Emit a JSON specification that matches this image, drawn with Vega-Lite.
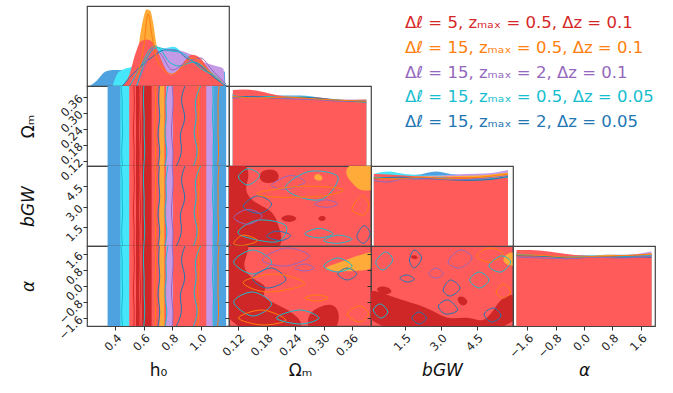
{
"$schema":"https://vega.github.io/schema/vega-lite/v6.json",
"padding":{"left":18,"top":5,"right":5,"bottom":5},
"background":"white",
"columns":4,
"spacing":0,
"bounds":"flush",
"resolve":{"scale":{"x":"independent","y":"independent"}},
"config":{
 "view":{"stroke":"#444","strokeWidth":1.2},
 "axis":{"domain":false,"grid":false,"tickColor":"#333","tickSize":4,"tickWidth":1,"labelFont":"DejaVu Sans","titleFont":"DejaVu Sans","labelFontSize":11.5,"titleFontSize":17,"titleFontWeight":"normal","labelColor":"#222","titleColor":"#111","labelPadding":2,"labelOverlap":false,"labelFlush":false},
 "text":{"font":"DejaVu Sans"}
},
"datasets":{
 "leg":[{"i":0,"s":"A","t":"Δℓ = 5, zₘₐₓ = 0.5, Δz = 0.1"},{"i":1,"s":"B","t":"Δℓ = 15, zₘₐₓ = 0.5, Δz = 0.1"},{"i":2,"s":"C","t":"Δℓ = 15, zₘₐₓ = 2, Δz = 0.1"},{"i":3,"s":"D","t":"Δℓ = 15, zₘₐₓ = 0.5, Δz = 0.05"},{"i":4,"s":"E","t":"Δℓ = 15, zₘₐₓ = 2, Δz = 0.05"}],
 "h0m":[
  {"s":"E","h0":0.22,"d":0},{"s":"E","h0":0.27,"d":0.07},{"s":"E","h0":0.33,"d":0.18},{"s":"E","h0":0.38,"d":0.2},{"s":"E","h0":0.45,"d":0.2},{"s":"E","h0":0.6,"d":0.2},{"s":"E","h0":0.8,"d":0.2},{"s":"E","h0":1.0,"d":0.2},{"s":"E","h0":1.06,"d":0.19},{"s":"E","h0":1.12,"d":0.19},{"s":"E","h0":1.17,"d":0.18},{"s":"E","h0":1.175,"d":0},
  {"s":"D","h0":0.38,"d":0},{"s":"D","h0":0.42,"d":0.17},{"s":"D","h0":0.46,"d":0.21},{"s":"D","h0":0.53,"d":0.25},{"s":"D","h0":0.6,"d":0.36},{"s":"D","h0":0.67,"d":0.48},{"s":"D","h0":0.74,"d":0.47},{"s":"D","h0":0.81,"d":0.49},{"s":"D","h0":0.88,"d":0.4},{"s":"D","h0":0.95,"d":0.3},{"s":"D","h0":1.02,"d":0.24},{"s":"D","h0":1.11,"d":0.2},{"s":"D","h0":1.16,"d":0.08},{"s":"D","h0":1.18,"d":0},
  {"s":"C","h0":0.66,"d":0},{"s":"C","h0":0.7,"d":0.35},{"s":"C","h0":0.75,"d":0.47},{"s":"C","h0":0.81,"d":0.46},{"s":"C","h0":0.86,"d":0.44},{"s":"C","h0":0.9,"d":0.42},{"s":"C","h0":0.95,"d":0.38},{"s":"C","h0":1.02,"d":0.3},{"s":"C","h0":1.09,"d":0.26},{"s":"C","h0":1.16,"d":0.22},{"s":"C","h0":1.17,"d":0},
  {"s":"B","h0":0.48,"d":0},{"s":"B","h0":0.526,"d":0.1},{"s":"B","h0":0.55,"d":0.3},{"s":"B","h0":0.575,"d":0.64},{"s":"B","h0":0.6,"d":0.87},{"s":"B","h0":0.62,"d":0.96},{"s":"B","h0":0.645,"d":0.94},{"s":"B","h0":0.665,"d":0.8},{"s":"B","h0":0.686,"d":0.55},{"s":"B","h0":0.709,"d":0.32},{"s":"B","h0":0.745,"d":0.18},{"s":"B","h0":0.8,"d":0.1},{"s":"B","h0":0.9,"d":0.12},{"s":"B","h0":1.05,"d":0.1},{"s":"B","h0":1.14,"d":0.04},{"s":"B","h0":1.18,"d":0},
  {"s":"A","h0":0.45,"d":0},{"s":"A","h0":0.5,"d":0.15},{"s":"A","h0":0.54,"d":0.4},{"s":"A","h0":0.58,"d":0.56},{"s":"A","h0":0.62,"d":0.58},{"s":"A","h0":0.66,"d":0.55},{"s":"A","h0":0.7,"d":0.43},{"s":"A","h0":0.74,"d":0.26},{"s":"A","h0":0.79,"d":0.14},{"s":"A","h0":0.84,"d":0.2},{"s":"A","h0":0.89,"d":0.32},{"s":"A","h0":0.94,"d":0.39},{"s":"A","h0":0.996,"d":0.35},{"s":"A","h0":1.054,"d":0.22},{"s":"A","h0":1.113,"d":0.09},{"s":"A","h0":1.17,"d":0.02},{"s":"A","h0":1.18,"d":0}
 ],
 "h0l":[
  {"id":"c1","s":"D","h0":0.5,"d":0},{"id":"c1","s":"D","h0":0.58,"d":0.25},{"id":"c1","s":"D","h0":0.64,"d":0.45},{"id":"c1","s":"D","h0":0.68,"d":0.5},{"id":"c1","s":"D","h0":0.72,"d":0.45},{"id":"c1","s":"D","h0":0.78,"d":0.3},{"id":"c1","s":"D","h0":0.85,"d":0.25},{"id":"c1","s":"D","h0":0.95,"d":0.3},{"id":"c1","s":"D","h0":1.05,"d":0.2},{"id":"c1","s":"D","h0":1.15,"d":0.05},
  {"id":"b1","s":"E","h0":0.45,"d":0},{"id":"b1","s":"E","h0":0.55,"d":0.2},{"id":"b1","s":"E","h0":0.65,"d":0.35},{"id":"b1","s":"E","h0":0.75,"d":0.45},{"id":"b1","s":"E","h0":0.82,"d":0.45},{"id":"b1","s":"E","h0":0.9,"d":0.35},{"id":"b1","s":"E","h0":1.0,"d":0.25},{"id":"b1","s":"E","h0":1.1,"d":0.1},{"id":"b1","s":"E","h0":1.18,"d":0},
  {"id":"p1","s":"C","h0":0.55,"d":0},{"id":"p1","s":"C","h0":0.62,"d":0.3},{"id":"p1","s":"C","h0":0.67,"d":0.48},{"id":"p1","s":"C","h0":0.72,"d":0.4},{"id":"p1","s":"C","h0":0.8,"d":0.2},{"id":"p1","s":"C","h0":0.9,"d":0.3},{"id":"p1","s":"C","h0":1.0,"d":0.35},{"id":"p1","s":"C","h0":1.08,"d":0.2},{"id":"p1","s":"C","h0":1.18,"d":0.02},
  {"id":"o1","s":"B","h0":0.55,"d":0.1},{"id":"o1","s":"B","h0":0.6,"d":0.5},{"id":"o1","s":"B","h0":0.63,"d":0.9},{"id":"o1","s":"B","h0":0.66,"d":0.6},{"id":"o1","s":"B","h0":0.7,"d":0.3},{"id":"o1","s":"B","h0":0.8,"d":0.15},{"id":"o1","s":"B","h0":0.95,"d":0.35},{"id":"o1","s":"B","h0":1.05,"d":0.2},{"id":"o1","s":"B","h0":1.15,"d":0.05},
  {"id":"c2","s":"D","h0":0.55,"d":0},{"id":"c2","s":"D","h0":0.62,"d":0.35},{"id":"c2","s":"D","h0":0.7,"d":0.48},{"id":"c2","s":"D","h0":0.78,"d":0.44},{"id":"c2","s":"D","h0":0.86,"d":0.42},{"id":"c2","s":"D","h0":0.93,"d":0.33},{"id":"c2","s":"D","h0":1.0,"d":0.22},{"id":"c2","s":"D","h0":1.1,"d":0.12},{"id":"c2","s":"D","h0":1.17,"d":0}
 ],
 "bands":[
  {"h0":0.345,"h0b":1.18,"c":"E"},{"h0":0.435,"h0b":1.09,"c":"D"},{"h0":0.5,"h0b":1.09,"c":"C"},{"h0":0.498,"h0b":1.04,"c":"A"},{"h0":0.545,"h0b":0.568,"c":"A2"},{"h0":0.585,"h0b":0.655,"c":"A2"},{"h0":0.71,"h0b":0.745,"c":"B"},{"h0":0.757,"h0b":0.806,"c":"C"}
 ],
 "ks":[{"k":0,"om":0.1,"bg":0.1,"al":-2},{"k":1,"om":0.16,"bg":1.28,"al":-1.2},{"k":2,"om":0.22,"bg":2.46,"al":-0.4},{"k":3,"om":0.28,"bg":3.64,"al":0.4},{"k":4,"om":0.34,"bg":4.82,"al":1.2},{"k":5,"om":0.4,"bg":6,"al":2}],
 "wig":[
  {"id":"w1","s":"D","k":0,"h0":0.45},{"id":"w1","s":"D","k":1,"h0":0.44},{"id":"w1","s":"D","k":2,"h0":0.455},{"id":"w1","s":"D","k":3,"h0":0.445},{"id":"w1","s":"D","k":4,"h0":0.45},{"id":"w1","s":"D","k":5,"h0":0.44},
  {"id":"w2","s":"A","k":0,"h0":0.53},{"id":"w2","s":"A","k":1,"h0":0.535},{"id":"w2","s":"A","k":2,"h0":0.525},{"id":"w2","s":"A","k":3,"h0":0.53},{"id":"w2","s":"A","k":4,"h0":0.535},{"id":"w2","s":"A","k":5,"h0":0.53},
  {"id":"w3","s":"A","k":0,"h0":0.575},{"id":"w3","s":"A","k":1,"h0":0.57},{"id":"w3","s":"A","k":2,"h0":0.58},{"id":"w3","s":"A","k":3,"h0":0.575},{"id":"w3","s":"A","k":4,"h0":0.57},{"id":"w3","s":"A","k":5,"h0":0.575},
  {"id":"w4","s":"D","k":0,"h0":0.6},{"id":"w4","s":"D","k":1,"h0":0.61},{"id":"w4","s":"D","k":2,"h0":0.6},{"id":"w4","s":"D","k":3,"h0":0.605},{"id":"w4","s":"D","k":4,"h0":0.595},{"id":"w4","s":"D","k":5,"h0":0.6},
  {"id":"w5","s":"B","k":0,"h0":0.68},{"id":"w5","s":"B","k":1,"h0":0.685},{"id":"w5","s":"B","k":2,"h0":0.675},{"id":"w5","s":"B","k":3,"h0":0.68},{"id":"w5","s":"B","k":4,"h0":0.685},{"id":"w5","s":"B","k":5,"h0":0.68},
  {"id":"w6","s":"D","k":0,"h0":0.75},{"id":"w6","s":"D","k":1,"h0":0.77},{"id":"w6","s":"D","k":2,"h0":0.74},{"id":"w6","s":"D","k":3,"h0":0.765},{"id":"w6","s":"D","k":4,"h0":0.75},{"id":"w6","s":"D","k":5,"h0":0.77},
  {"id":"w7","s":"E","k":0,"h0":0.83},{"id":"w7","s":"E","k":1,"h0":0.88},{"id":"w7","s":"E","k":2,"h0":0.84},{"id":"w7","s":"E","k":3,"h0":0.91},{"id":"w7","s":"E","k":4,"h0":0.85},{"id":"w7","s":"E","k":5,"h0":0.89},
  {"id":"w8","s":"C","k":0,"h0":0.8},{"id":"w8","s":"C","k":1,"h0":0.81},{"id":"w8","s":"C","k":2,"h0":0.79},{"id":"w8","s":"C","k":3,"h0":0.8},{"id":"w8","s":"C","k":4,"h0":0.81},{"id":"w8","s":"C","k":5,"h0":0.8},
  {"id":"w9","s":"B","k":0,"h0":0.98},{"id":"w9","s":"B","k":1,"h0":0.99},{"id":"w9","s":"B","k":2,"h0":0.975},{"id":"w9","s":"B","k":3,"h0":0.985},{"id":"w9","s":"B","k":4,"h0":0.99},{"id":"w9","s":"B","k":5,"h0":0.98},
  {"id":"w10","s":"D","k":0,"h0":0.95},{"id":"w10","s":"D","k":1,"h0":0.99},{"id":"w10","s":"D","k":2,"h0":0.94},{"id":"w10","s":"D","k":3,"h0":0.98},{"id":"w10","s":"D","k":4,"h0":0.95},{"id":"w10","s":"D","k":5,"h0":1.0},
  {"id":"w11","s":"D","k":0,"h0":1.09},{"id":"w11","s":"D","k":1,"h0":1.085},{"id":"w11","s":"D","k":2,"h0":1.095},{"id":"w11","s":"D","k":3,"h0":1.08},{"id":"w11","s":"D","k":4,"h0":1.09},{"id":"w11","s":"D","k":5,"h0":1.085},
  {"id":"w12","s":"B","k":0,"h0":1.12},{"id":"w12","s":"B","k":1,"h0":1.13},{"id":"w12","s":"B","k":2,"h0":1.12},{"id":"w12","s":"B","k":3,"h0":1.125},{"id":"w12","s":"B","k":4,"h0":1.12},{"id":"w12","s":"B","k":5,"h0":1.13},
  {"id":"w13","s":"E","k":0,"h0":0.7},{"id":"w13","s":"E","k":1,"h0":0.72},{"id":"w13","s":"E","k":2,"h0":0.69},{"id":"w13","s":"E","k":3,"h0":0.72},{"id":"w13","s":"E","k":4,"h0":0.7},{"id":"w13","s":"E","k":5,"h0":0.71}
 ],
 "dg":[
  {"p":"om","s":"E","x":0.108,"d":0.9},{"p":"om","s":"E","x":0.15,"d":0.9},{"p":"om","s":"E","x":0.2,"d":0.88},{"p":"om","s":"E","x":0.25,"d":0.88},{"p":"om","s":"E","x":0.3,"d":0.85},{"p":"om","s":"E","x":0.35,"d":0.82},{"p":"om","s":"E","x":0.39,"d":0.8},
  {"p":"om","s":"D","x":0.108,"d":0.91},{"p":"om","s":"D","x":0.15,"d":0.88},{"p":"om","s":"D","x":0.2,"d":0.87},{"p":"om","s":"D","x":0.25,"d":0.875},{"p":"om","s":"D","x":0.3,"d":0.84},{"p":"om","s":"D","x":0.35,"d":0.82},{"p":"om","s":"D","x":0.39,"d":0.81},
  {"p":"om","s":"C","x":0.108,"d":0.89},{"p":"om","s":"C","x":0.2,"d":0.86},{"p":"om","s":"C","x":0.3,"d":0.84},{"p":"om","s":"C","x":0.35,"d":0.83},{"p":"om","s":"C","x":0.39,"d":0.835},
  {"p":"om","s":"B","x":0.108,"d":0.89},{"p":"om","s":"B","x":0.2,"d":0.86},{"p":"om","s":"B","x":0.3,"d":0.83},{"p":"om","s":"B","x":0.36,"d":0.825},{"p":"om","s":"B","x":0.39,"d":0.83},
  {"p":"om","s":"A","x":0.108,"d":0.95},{"p":"om","s":"A","x":0.13,"d":0.955},{"p":"om","s":"A","x":0.16,"d":0.94},{"p":"om","s":"A","x":0.19,"d":0.9},{"p":"om","s":"A","x":0.22,"d":0.87},{"p":"om","s":"A","x":0.26,"d":0.865},{"p":"om","s":"A","x":0.3,"d":0.85},{"p":"om","s":"A","x":0.33,"d":0.82},{"p":"om","s":"A","x":0.36,"d":0.8},{"p":"om","s":"A","x":0.39,"d":0.79},
  {"p":"bg","s":"E","x":0.22,"d":0.88},{"p":"bg","s":"E","x":1.0,"d":0.89},{"p":"bg","s":"E","x":2.0,"d":0.89},{"p":"bg","s":"E","x":2.8,"d":0.93},{"p":"bg","s":"E","x":3.4,"d":0.9},{"p":"bg","s":"E","x":4.5,"d":0.88},{"p":"bg","s":"E","x":5.79,"d":0.88},
  {"p":"bg","s":"D","x":0.22,"d":0.9},{"p":"bg","s":"D","x":0.8,"d":0.93},{"p":"bg","s":"D","x":1.5,"d":0.9},{"p":"bg","s":"D","x":2.5,"d":0.88},{"p":"bg","s":"D","x":3.5,"d":0.89},{"p":"bg","s":"D","x":4.5,"d":0.87},{"p":"bg","s":"D","x":5.79,"d":0.9},
  {"p":"bg","s":"C","x":0.22,"d":0.87},{"p":"bg","s":"C","x":1.5,"d":0.87},{"p":"bg","s":"C","x":3.0,"d":0.88},{"p":"bg","s":"C","x":4.0,"d":0.9},{"p":"bg","s":"C","x":5.0,"d":0.91},{"p":"bg","s":"C","x":5.79,"d":0.95},
  {"p":"bg","s":"B","x":0.22,"d":0.86},{"p":"bg","s":"B","x":1.5,"d":0.87},{"p":"bg","s":"B","x":3.0,"d":0.87},{"p":"bg","s":"B","x":4.5,"d":0.88},{"p":"bg","s":"B","x":5.3,"d":0.9},{"p":"bg","s":"B","x":5.79,"d":0.92},
  {"p":"bg","s":"A","x":0.22,"d":0.9},{"p":"bg","s":"A","x":1.0,"d":0.89},{"p":"bg","s":"A","x":2.0,"d":0.87},{"p":"bg","s":"A","x":3.0,"d":0.86},{"p":"bg","s":"A","x":4.0,"d":0.86},{"p":"bg","s":"A","x":5.0,"d":0.85},{"p":"bg","s":"A","x":5.79,"d":0.86},
  {"p":"al","s":"E","x":-1.9,"d":0.92},{"p":"al","s":"E","x":-1.0,"d":0.9},{"p":"al","s":"E","x":0.0,"d":0.88},{"p":"al","s":"E","x":0.6,"d":0.89},{"p":"al","s":"E","x":1.2,"d":0.89},{"p":"al","s":"E","x":1.9,"d":0.9},
  {"p":"al","s":"D","x":-1.9,"d":0.93},{"p":"al","s":"D","x":-1.0,"d":0.91},{"p":"al","s":"D","x":0.0,"d":0.88},{"p":"al","s":"D","x":0.5,"d":0.88},{"p":"al","s":"D","x":1.0,"d":0.87},{"p":"al","s":"D","x":1.9,"d":0.89},
  {"p":"al","s":"C","x":-1.9,"d":0.92},{"p":"al","s":"C","x":-1.0,"d":0.89},{"p":"al","s":"C","x":0.0,"d":0.87},{"p":"al","s":"C","x":1.0,"d":0.88},{"p":"al","s":"C","x":1.5,"d":0.9},{"p":"al","s":"C","x":1.9,"d":0.93},
  {"p":"al","s":"B","x":-1.9,"d":0.9},{"p":"al","s":"B","x":-1.0,"d":0.89},{"p":"al","s":"B","x":0.0,"d":0.87},{"p":"al","s":"B","x":0.8,"d":0.89},{"p":"al","s":"B","x":1.3,"d":0.88},{"p":"al","s":"B","x":1.9,"d":0.91},
  {"p":"al","s":"A","x":-1.9,"d":0.95},{"p":"al","s":"A","x":-1.5,"d":0.95},{"p":"al","s":"A","x":-1.0,"d":0.93},{"p":"al","s":"A","x":-0.5,"d":0.9},{"p":"al","s":"A","x":0.0,"d":0.88},{"p":"al","s":"A","x":0.5,"d":0.87},{"p":"al","s":"A","x":1.0,"d":0.88},{"p":"al","s":"A","x":1.5,"d":0.89},{"p":"al","s":"A","x":1.9,"d":0.9}
 ],
 "dgl":[
  {"p":"om","id":"c","s":"D","x":0.108,"d":0.88},{"p":"om","id":"c","s":"D","x":0.14,"d":0.86},{"p":"om","id":"c","s":"D","x":0.18,"d":0.87},{"p":"om","id":"c","s":"D","x":0.22,"d":0.85},{"p":"om","id":"c","s":"D","x":0.26,"d":0.86},{"p":"om","id":"c","s":"D","x":0.3,"d":0.83},{"p":"om","id":"c","s":"D","x":0.34,"d":0.82},{"p":"om","id":"c","s":"D","x":0.39,"d":0.8},
  {"p":"om","id":"b","s":"E","x":0.108,"d":0.86},{"p":"om","id":"b","s":"E","x":0.15,"d":0.87},{"p":"om","id":"b","s":"E","x":0.2,"d":0.85},{"p":"om","id":"b","s":"E","x":0.25,"d":0.86},{"p":"om","id":"b","s":"E","x":0.3,"d":0.84},{"p":"om","id":"b","s":"E","x":0.35,"d":0.81},{"p":"om","id":"b","s":"E","x":0.39,"d":0.8},
  {"p":"om","id":"p","s":"C","x":0.108,"d":0.85},{"p":"om","id":"p","s":"C","x":0.16,"d":0.86},{"p":"om","id":"p","s":"C","x":0.22,"d":0.84},{"p":"om","id":"p","s":"C","x":0.28,"d":0.83},{"p":"om","id":"p","s":"C","x":0.34,"d":0.81},{"p":"om","id":"p","s":"C","x":0.39,"d":0.82},
  {"p":"om","id":"o","s":"B","x":0.108,"d":0.87},{"p":"om","id":"o","s":"B","x":0.16,"d":0.85},{"p":"om","id":"o","s":"B","x":0.22,"d":0.86},{"p":"om","id":"o","s":"B","x":0.28,"d":0.84},{"p":"om","id":"o","s":"B","x":0.34,"d":0.82},{"p":"om","id":"o","s":"B","x":0.39,"d":0.81},
  {"p":"bg","id":"c","s":"D","x":0.22,"d":0.86},{"p":"bg","id":"c","s":"D","x":1.0,"d":0.85},{"p":"bg","id":"c","s":"D","x":2.0,"d":0.84},{"p":"bg","id":"c","s":"D","x":3.0,"d":0.85},{"p":"bg","id":"c","s":"D","x":4.0,"d":0.83},{"p":"bg","id":"c","s":"D","x":5.0,"d":0.84},{"p":"bg","id":"c","s":"D","x":5.79,"d":0.86},
  {"p":"bg","id":"b","s":"E","x":0.22,"d":0.84},{"p":"bg","id":"b","s":"E","x":1.2,"d":0.86},{"p":"bg","id":"b","s":"E","x":2.2,"d":0.85},{"p":"bg","id":"b","s":"E","x":3.2,"d":0.83},{"p":"bg","id":"b","s":"E","x":4.2,"d":0.82},{"p":"bg","id":"b","s":"E","x":5.0,"d":0.83},{"p":"bg","id":"b","s":"E","x":5.79,"d":0.87},
  {"p":"bg","id":"p","s":"C","x":0.22,"d":0.82},{"p":"bg","id":"p","s":"C","x":0.8,"d":0.8},{"p":"bg","id":"p","s":"C","x":1.5,"d":0.84},{"p":"bg","id":"p","s":"C","x":2.5,"d":0.84},{"p":"bg","id":"p","s":"C","x":3.5,"d":0.83},{"p":"bg","id":"p","s":"C","x":4.5,"d":0.84},{"p":"bg","id":"p","s":"C","x":5.79,"d":0.88},
  {"p":"bg","id":"o","s":"B","x":0.22,"d":0.85},{"p":"bg","id":"o","s":"B","x":1.2,"d":0.84},{"p":"bg","id":"o","s":"B","x":2.2,"d":0.86},{"p":"bg","id":"o","s":"B","x":3.2,"d":0.84},{"p":"bg","id":"o","s":"B","x":4.2,"d":0.85},{"p":"bg","id":"o","s":"B","x":5.79,"d":0.9},
  {"p":"al","id":"c","s":"D","x":-1.9,"d":0.9},{"p":"al","id":"c","s":"D","x":-1.3,"d":0.88},{"p":"al","id":"c","s":"D","x":-0.6,"d":0.86},{"p":"al","id":"c","s":"D","x":0.0,"d":0.87},{"p":"al","id":"c","s":"D","x":0.6,"d":0.86},{"p":"al","id":"c","s":"D","x":1.2,"d":0.87},{"p":"al","id":"c","s":"D","x":1.9,"d":0.88},
  {"p":"al","id":"b","s":"E","x":-1.9,"d":0.88},{"p":"al","id":"b","s":"E","x":-1.0,"d":0.87},{"p":"al","id":"b","s":"E","x":-0.3,"d":0.85},{"p":"al","id":"b","s":"E","x":0.4,"d":0.87},{"p":"al","id":"b","s":"E","x":1.0,"d":0.86},{"p":"al","id":"b","s":"E","x":1.9,"d":0.86},
  {"p":"al","id":"p","s":"C","x":-1.9,"d":0.86},{"p":"al","id":"p","s":"C","x":-1.2,"d":0.85},{"p":"al","id":"p","s":"C","x":-0.5,"d":0.84},{"p":"al","id":"p","s":"C","x":0.3,"d":0.86},{"p":"al","id":"p","s":"C","x":1.0,"d":0.85},{"p":"al","id":"p","s":"C","x":1.9,"d":0.87},
  {"p":"al","id":"o","s":"B","x":-1.9,"d":0.89},{"p":"al","id":"o","s":"B","x":-1.1,"d":0.88},{"p":"al","id":"o","s":"B","x":-0.4,"d":0.86},{"p":"al","id":"o","s":"B","x":0.3,"d":0.87},{"p":"al","id":"o","s":"B","x":1.1,"d":0.88},{"p":"al","id":"o","s":"B","x":1.9,"d":0.9}
 ],
 "blobs":[
  {"p":"ob","id":"b1","c":"A2","o":0,"x":0.07,"y":6.5},{"p":"ob","id":"b1","c":"A2","o":1,"x":0.135,"y":6.5},{"p":"ob","id":"b1","c":"A2","o":2,"x":0.145,"y":5.2},{"p":"ob","id":"b1","c":"A2","o":3,"x":0.13,"y":4.2},{"p":"ob","id":"b1","c":"A2","o":4,"x":0.155,"y":3.2},{"p":"ob","id":"b1","c":"A2","o":5,"x":0.195,"y":2.7},{"p":"ob","id":"b1","c":"A2","o":6,"x":0.205,"y":1.5},{"p":"ob","id":"b1","c":"A2","o":7,"x":0.215,"y":0.5},{"p":"ob","id":"b1","c":"A2","o":8,"x":0.2,"y":-0.5},{"p":"ob","id":"b1","c":"A2","o":9,"x":0.07,"y":-0.5},
  {"p":"ob","id":"b2","c":"A2","o":0,"x":0.165,"y":5.7},{"p":"ob","id":"b2","c":"A2","o":1,"x":0.2,"y":5.85},{"p":"ob","id":"b2","c":"A2","o":2,"x":0.21,"y":5.0},{"p":"ob","id":"b2","c":"A2","o":3,"x":0.185,"y":4.65},{"p":"ob","id":"b2","c":"A2","o":4,"x":0.163,"y":4.9},
  {"p":"ob","id":"b3","c":"A2","o":0,"x":0.203,"y":2.1},{"p":"ob","id":"b3","c":"A2","o":1,"x":0.225,"y":2.5},{"p":"ob","id":"b3","c":"A2","o":2,"x":0.25,"y":2.15},{"p":"ob","id":"b3","c":"A2","o":3,"x":0.228,"y":1.75},
  {"p":"ob","id":"b4","c":"A2","o":0,"x":0.285,"y":2.1},{"p":"ob","id":"b4","c":"A2","o":1,"x":0.296,"y":2.42},{"p":"ob","id":"b4","c":"A2","o":2,"x":0.308,"y":2.15},{"p":"ob","id":"b4","c":"A2","o":3,"x":0.297,"y":1.85},
  {"p":"ob","id":"o1","c":"B","o":0,"x":0.345,"y":5.3},{"p":"ob","id":"o1","c":"B","o":1,"x":0.35,"y":6.3},{"p":"ob","id":"o1","c":"B","o":2,"x":0.42,"y":6.3},{"p":"ob","id":"o1","c":"B","o":3,"x":0.42,"y":4.2},{"p":"ob","id":"o1","c":"B","o":4,"x":0.375,"y":4.1},{"p":"ob","id":"o1","c":"B","o":5,"x":0.36,"y":4.8},
  {"p":"ob","id":"o2","c":"B","o":0,"x":0.276,"y":5.2},{"p":"ob","id":"o2","c":"B","o":1,"x":0.29,"y":5.55},{"p":"ob","id":"o2","c":"B","o":2,"x":0.302,"y":5.0},{"p":"ob","id":"o2","c":"B","o":3,"x":0.286,"y":4.85},
  {"p":"oa","id":"b1","c":"A2","o":0,"x":0.07,"y":2.5},{"p":"oa","id":"b1","c":"A2","o":1,"x":0.135,"y":2.5},{"p":"oa","id":"b1","c":"A2","o":2,"x":0.145,"y":1.8},{"p":"oa","id":"b1","c":"A2","o":3,"x":0.125,"y":1.0},{"p":"oa","id":"b1","c":"A2","o":4,"x":0.15,"y":0.3},{"p":"oa","id":"b1","c":"A2","o":5,"x":0.185,"y":0.0},{"p":"oa","id":"b1","c":"A2","o":6,"x":0.165,"y":-0.5},{"p":"oa","id":"b1","c":"A2","o":7,"x":0.2,"y":-0.9},{"p":"oa","id":"b1","c":"A2","o":8,"x":0.25,"y":-1.5},{"p":"oa","id":"b1","c":"A2","o":9,"x":0.265,"y":-2.5},{"p":"oa","id":"b1","c":"A2","o":10,"x":0.07,"y":-2.5},
  {"p":"oa","id":"b2","c":"A2","o":0,"x":0.265,"y":-2.4},{"p":"oa","id":"b2","c":"A2","o":1,"x":0.265,"y":-1.4},{"p":"oa","id":"b2","c":"A2","o":2,"x":0.29,"y":-1.05},{"p":"oa","id":"b2","c":"A2","o":3,"x":0.315,"y":-0.85},{"p":"oa","id":"b2","c":"A2","o":4,"x":0.335,"y":-1.2},{"p":"oa","id":"b2","c":"A2","o":5,"x":0.33,"y":-2.4},
  {"p":"oa","id":"o1","c":"B","o":0,"x":0.285,"y":0.8},{"p":"oa","id":"o1","c":"B","o":1,"x":0.33,"y":1.15},{"p":"oa","id":"o1","c":"B","o":2,"x":0.37,"y":1.5},{"p":"oa","id":"o1","c":"B","o":3,"x":0.42,"y":1.9},{"p":"oa","id":"o1","c":"B","o":4,"x":0.42,"y":0.85},{"p":"oa","id":"o1","c":"B","o":5,"x":0.36,"y":0.7},
  {"p":"ba","id":"b1","c":"A2","o":0,"x":-0.3,"y":-0.1},{"p":"ba","id":"b1","c":"A2","o":1,"x":0.5,"y":-0.3},{"p":"ba","id":"b1","c":"A2","o":2,"x":1.1,"y":-0.6},{"p":"ba","id":"b1","c":"A2","o":3,"x":2.0,"y":-0.9},{"p":"ba","id":"b1","c":"A2","o":4,"x":2.8,"y":-1.3},{"p":"ba","id":"b1","c":"A2","o":5,"x":3.3,"y":-1.7},{"p":"ba","id":"b1","c":"A2","o":6,"x":4.2,"y":-1.5},{"p":"ba","id":"b1","c":"A2","o":7,"x":4.8,"y":-1.9},{"p":"ba","id":"b1","c":"A2","o":8,"x":5.3,"y":-1.0},{"p":"ba","id":"b1","c":"A2","o":9,"x":5.6,"y":-0.5},{"p":"ba","id":"b1","c":"A2","o":10,"x":6.4,"y":-0.3},{"p":"ba","id":"b1","c":"A2","o":11,"x":6.4,"y":-2.5},{"p":"ba","id":"b1","c":"A2","o":12,"x":-0.3,"y":-2.5},
  {"p":"ba","id":"b2","c":"A2","o":0,"x":1.7,"y":1.45},{"p":"ba","id":"b2","c":"A2","o":1,"x":1.9,"y":1.58},{"p":"ba","id":"b2","c":"A2","o":2,"x":2.1,"y":1.42},{"p":"ba","id":"b2","c":"A2","o":3,"x":1.9,"y":1.3},
  {"p":"ba","id":"b3","c":"A2","o":0,"x":3.6,"y":-0.6},{"p":"ba","id":"b3","c":"A2","o":1,"x":3.9,"y":-0.45},{"p":"ba","id":"b3","c":"A2","o":2,"x":4.2,"y":-0.8},{"p":"ba","id":"b3","c":"A2","o":3,"x":3.9,"y":-1.1},
  {"p":"ba","id":"b4","c":"A2","o":0,"x":0.2,"y":-0.1},{"p":"ba","id":"b4","c":"A2","o":1,"x":0.7,"y":0.05},{"p":"ba","id":"b4","c":"A2","o":2,"x":1.1,"y":-0.3},{"p":"ba","id":"b4","c":"A2","o":3,"x":0.6,"y":-0.5},
  {"p":"ba","id":"o1","c":"B","o":0,"x":5.5,"y":1.3},{"p":"ba","id":"o1","c":"B","o":1,"x":5.8,"y":1.7},{"p":"ba","id":"o1","c":"B","o":2,"x":6.3,"y":1.7},{"p":"ba","id":"o1","c":"B","o":3,"x":6.3,"y":1.0},{"p":"ba","id":"o1","c":"B","o":4,"x":5.8,"y":1.0}
 ],
 "loops":[
  {"p":"ob","id":"1","s":"D","o":0,"x":0.12,"y":5.2},{"p":"ob","id":"1","s":"D","o":1,"x":0.14,"y":5.8},{"p":"ob","id":"1","s":"D","o":2,"x":0.165,"y":5.3},{"p":"ob","id":"1","s":"D","o":3,"x":0.14,"y":4.6},
  {"p":"ob","id":"2","s":"E","o":0,"x":0.13,"y":3.0},{"p":"ob","id":"2","s":"E","o":1,"x":0.16,"y":3.8},{"p":"ob","id":"2","s":"E","o":2,"x":0.19,"y":3.2},{"p":"ob","id":"2","s":"E","o":3,"x":0.165,"y":2.5},
  {"p":"ob","id":"3","s":"C","o":0,"x":0.19,"y":4.6},{"p":"ob","id":"3","s":"C","o":1,"x":0.23,"y":5.3},{"p":"ob","id":"3","s":"C","o":2,"x":0.26,"y":4.8},{"p":"ob","id":"3","s":"C","o":3,"x":0.22,"y":4.3},
  {"p":"ob","id":"4","s":"D","o":0,"x":0.22,"y":4.5},{"p":"ob","id":"4","s":"D","o":1,"x":0.27,"y":5.6},{"p":"ob","id":"4","s":"D","o":2,"x":0.33,"y":5.2},{"p":"ob","id":"4","s":"D","o":3,"x":0.3,"y":3.6},{"p":"ob","id":"4","s":"D","o":4,"x":0.25,"y":3.7},
  {"p":"ob","id":"5","s":"C","o":0,"x":0.28,"y":3.2},{"p":"ob","id":"5","s":"C","o":1,"x":0.305,"y":3.5},{"p":"ob","id":"5","s":"C","o":2,"x":0.33,"y":3.2},{"p":"ob","id":"5","s":"C","o":3,"x":0.305,"y":2.95},
  {"p":"ob","id":"6","s":"B","o":0,"x":0.16,"y":4.0},{"p":"ob","id":"6","s":"B","o":1,"x":0.25,"y":4.5},{"p":"ob","id":"6","s":"B","o":2,"x":0.34,"y":4.3},{"p":"ob","id":"6","s":"B","o":3,"x":0.3,"y":3.8},{"p":"ob","id":"6","s":"B","o":4,"x":0.2,"y":3.7},
  {"p":"ob","id":"7","s":"D","o":0,"x":0.12,"y":1.0},{"p":"ob","id":"7","s":"D","o":1,"x":0.16,"y":2.0},{"p":"ob","id":"7","s":"D","o":2,"x":0.22,"y":1.6},{"p":"ob","id":"7","s":"D","o":3,"x":0.2,"y":0.4},
  {"p":"ob","id":"8","s":"E","o":0,"x":0.18,"y":0.8},{"p":"ob","id":"8","s":"E","o":1,"x":0.2,"y":1.2},{"p":"ob","id":"8","s":"E","o":2,"x":0.23,"y":0.9},{"p":"ob","id":"8","s":"E","o":3,"x":0.21,"y":0.5},
  {"p":"ob","id":"9","s":"D","o":0,"x":0.3,"y":0.5},{"p":"ob","id":"9","s":"D","o":1,"x":0.33,"y":0.9},{"p":"ob","id":"9","s":"D","o":2,"x":0.36,"y":0.6},{"p":"ob","id":"9","s":"D","o":3,"x":0.33,"y":0.3},
  {"p":"ob","id":"10","s":"B","o":0,"x":0.36,"y":2.8},{"p":"ob","id":"10","s":"B","o":1,"x":0.38,"y":3.8},{"p":"ob","id":"10","s":"B","o":2,"x":0.395,"y":3.2},{"p":"ob","id":"10","s":"B","o":3,"x":0.385,"y":2.4},
  {"p":"ob","id":"11","s":"E","o":0,"x":0.37,"y":0.8},{"p":"ob","id":"11","s":"E","o":1,"x":0.385,"y":1.6},{"p":"ob","id":"11","s":"E","o":2,"x":0.398,"y":1.0},{"p":"ob","id":"11","s":"E","o":3,"x":0.385,"y":0.3},
  {"p":"ob","id":"12","s":"B","o":0,"x":0.11,"y":0.3},{"p":"ob","id":"12","s":"B","o":1,"x":0.13,"y":0.9},{"p":"ob","id":"12","s":"B","o":2,"x":0.16,"y":0.5},{"p":"ob","id":"12","s":"B","o":3,"x":0.13,"y":0.15},
  {"p":"ob","id":"13","s":"C","o":0,"x":0.11,"y":2.2},{"p":"ob","id":"13","s":"C","o":1,"x":0.14,"y":2.8},{"p":"ob","id":"13","s":"C","o":2,"x":0.17,"y":2.3},{"p":"ob","id":"13","s":"C","o":3,"x":0.14,"y":1.7},
  {"p":"ob","id":"14","s":"D","o":0,"x":0.26,"y":1.0},{"p":"ob","id":"14","s":"D","o":1,"x":0.29,"y":1.4},{"p":"ob","id":"14","s":"D","o":2,"x":0.32,"y":1.0},{"p":"ob","id":"14","s":"D","o":3,"x":0.29,"y":0.7},
  {"p":"oa","id":"1","s":"D","o":0,"x":0.11,"y":1.2},{"p":"oa","id":"1","s":"D","o":1,"x":0.15,"y":1.8},{"p":"oa","id":"1","s":"D","o":2,"x":0.19,"y":1.2},{"p":"oa","id":"1","s":"D","o":3,"x":0.15,"y":0.6},
  {"p":"oa","id":"2","s":"E","o":0,"x":0.15,"y":0.4},{"p":"oa","id":"2","s":"E","o":1,"x":0.19,"y":0.9},{"p":"oa","id":"2","s":"E","o":2,"x":0.22,"y":0.3},{"p":"oa","id":"2","s":"E","o":3,"x":0.18,"y":-0.1},
  {"p":"oa","id":"3","s":"C","o":0,"x":0.17,"y":1.3},{"p":"oa","id":"3","s":"C","o":1,"x":0.22,"y":1.9},{"p":"oa","id":"3","s":"C","o":2,"x":0.27,"y":1.5},{"p":"oa","id":"3","s":"C","o":3,"x":0.22,"y":1.0},
  {"p":"oa","id":"4","s":"D","o":0,"x":0.11,"y":-0.8},{"p":"oa","id":"4","s":"D","o":1,"x":0.15,"y":-0.3},{"p":"oa","id":"4","s":"D","o":2,"x":0.19,"y":-0.9},{"p":"oa","id":"4","s":"D","o":3,"x":0.15,"y":-1.5},
  {"p":"oa","id":"5","s":"B","o":0,"x":0.12,"y":-1.6},{"p":"oa","id":"5","s":"B","o":1,"x":0.17,"y":-1.2},{"p":"oa","id":"5","s":"B","o":2,"x":0.22,"y":-1.7},{"p":"oa","id":"5","s":"B","o":3,"x":0.17,"y":-1.95},
  {"p":"oa","id":"6","s":"D","o":0,"x":0.2,"y":-1.6},{"p":"oa","id":"6","s":"D","o":1,"x":0.25,"y":-1.2},{"p":"oa","id":"6","s":"D","o":2,"x":0.29,"y":-1.6},{"p":"oa","id":"6","s":"D","o":3,"x":0.25,"y":-1.9},
  {"p":"oa","id":"7","s":"B","o":0,"x":0.26,"y":-0.6},{"p":"oa","id":"7","s":"B","o":1,"x":0.285,"y":-0.45},{"p":"oa","id":"7","s":"B","o":2,"x":0.31,"y":-0.6},{"p":"oa","id":"7","s":"B","o":3,"x":0.285,"y":-0.75},
  {"p":"oa","id":"8","s":"E","o":0,"x":0.33,"y":0.6},{"p":"oa","id":"8","s":"E","o":1,"x":0.35,"y":0.9},{"p":"oa","id":"8","s":"E","o":2,"x":0.37,"y":0.6},{"p":"oa","id":"8","s":"E","o":3,"x":0.35,"y":0.3},
  {"p":"oa","id":"9","s":"B","o":0,"x":0.35,"y":-1.4},{"p":"oa","id":"9","s":"B","o":1,"x":0.375,"y":-1.0},{"p":"oa","id":"9","s":"B","o":2,"x":0.395,"y":-1.4},{"p":"oa","id":"9","s":"B","o":3,"x":0.375,"y":-1.8},
  {"p":"oa","id":"10","s":"C","o":0,"x":0.24,"y":0.9},{"p":"oa","id":"10","s":"C","o":1,"x":0.26,"y":1.1},{"p":"oa","id":"10","s":"C","o":2,"x":0.28,"y":0.9},{"p":"oa","id":"10","s":"C","o":3,"x":0.26,"y":0.75},
  {"p":"oa","id":"11","s":"B","o":0,"x":0.13,"y":0.2},{"p":"oa","id":"11","s":"B","o":1,"x":0.2,"y":0.6},{"p":"oa","id":"11","s":"B","o":2,"x":0.26,"y":0.1},{"p":"oa","id":"11","s":"B","o":3,"x":0.18,"y":-0.3},
  {"p":"oa","id":"12","s":"D","o":0,"x":0.3,"y":1.0},{"p":"oa","id":"12","s":"D","o":1,"x":0.33,"y":1.4},{"p":"oa","id":"12","s":"D","o":2,"x":0.36,"y":1.0},{"p":"oa","id":"12","s":"D","o":3,"x":0.33,"y":0.7},
  {"p":"ba","id":"1","s":"E","o":0,"x":1.7,"y":1.3},{"p":"ba","id":"1","s":"E","o":1,"x":1.9,"y":1.8},{"p":"ba","id":"1","s":"E","o":2,"x":2.2,"y":1.4},{"p":"ba","id":"1","s":"E","o":3,"x":1.9,"y":0.9},
  {"p":"ba","id":"2","s":"E","o":0,"x":1.3,"y":0.4},{"p":"ba","id":"2","s":"E","o":1,"x":1.6,"y":0.55},{"p":"ba","id":"2","s":"E","o":2,"x":1.9,"y":0.35},{"p":"ba","id":"2","s":"E","o":3,"x":1.6,"y":0.2},
  {"p":"ba","id":"3","s":"E","o":0,"x":3.1,"y":-0.2},{"p":"ba","id":"3","s":"E","o":1,"x":3.4,"y":0.3},{"p":"ba","id":"3","s":"E","o":2,"x":3.8,"y":-0.1},{"p":"ba","id":"3","s":"E","o":3,"x":3.4,"y":-0.5},
  {"p":"ba","id":"4","s":"D","o":0,"x":4.2,"y":0.3},{"p":"ba","id":"4","s":"D","o":1,"x":4.6,"y":0.7},{"p":"ba","id":"4","s":"D","o":2,"x":5.0,"y":0.3},{"p":"ba","id":"4","s":"D","o":3,"x":4.6,"y":-0.1},
  {"p":"ba","id":"5","s":"D","o":0,"x":0.3,"y":1.2},{"p":"ba","id":"5","s":"D","o":1,"x":0.7,"y":1.7},{"p":"ba","id":"5","s":"D","o":2,"x":1.0,"y":1.3},{"p":"ba","id":"5","s":"D","o":3,"x":0.6,"y":0.8},
  {"p":"ba","id":"6","s":"E","o":0,"x":2.9,"y":-1.0},{"p":"ba","id":"6","s":"E","o":1,"x":3.3,"y":-0.7},{"p":"ba","id":"6","s":"E","o":2,"x":3.7,"y":-1.2},{"p":"ba","id":"6","s":"E","o":3,"x":3.2,"y":-1.4},
  {"p":"ba","id":"7","s":"E","o":0,"x":4.8,"y":-1.4},{"p":"ba","id":"7","s":"E","o":1,"x":5.2,"y":-1.1},{"p":"ba","id":"7","s":"E","o":2,"x":5.5,"y":-1.5},{"p":"ba","id":"7","s":"E","o":3,"x":5.1,"y":-1.8},
  {"p":"ba","id":"8","s":"C","o":0,"x":3.3,"y":1.2},{"p":"ba","id":"8","s":"C","o":1,"x":3.8,"y":1.8},{"p":"ba","id":"8","s":"C","o":2,"x":4.3,"y":1.4},{"p":"ba","id":"8","s":"C","o":3,"x":3.8,"y":0.9},
  {"p":"ba","id":"9","s":"B","o":0,"x":4.5,"y":1.5},{"p":"ba","id":"9","s":"B","o":1,"x":5.0,"y":1.9},{"p":"ba","id":"9","s":"B","o":2,"x":5.6,"y":1.6},{"p":"ba","id":"9","s":"B","o":3,"x":5.0,"y":1.2},
  {"p":"ba","id":"10","s":"D","o":0,"x":5.0,"y":1.0},{"p":"ba","id":"10","s":"D","o":1,"x":5.5,"y":1.5},{"p":"ba","id":"10","s":"D","o":2,"x":5.9,"y":1.2},{"p":"ba","id":"10","s":"D","o":3,"x":5.5,"y":0.7},
  {"p":"ba","id":"11","s":"E","o":0,"x":1.8,"y":-1.6},{"p":"ba","id":"11","s":"E","o":1,"x":2.1,"y":-1.3},{"p":"ba","id":"11","s":"E","o":2,"x":2.4,"y":-1.6},{"p":"ba","id":"11","s":"E","o":3,"x":2.1,"y":-1.9},
  {"p":"ba","id":"12","s":"D","o":0,"x":0.2,"y":-1.2},{"p":"ba","id":"12","s":"D","o":1,"x":0.5,"y":-0.9},{"p":"ba","id":"12","s":"D","o":2,"x":0.8,"y":-1.3},{"p":"ba","id":"12","s":"D","o":3,"x":0.5,"y":-1.6},
  {"p":"ba","id":"13","s":"B","o":0,"x":5.3,"y":-0.3},{"p":"ba","id":"13","s":"B","o":1,"x":5.6,"y":0.1},{"p":"ba","id":"13","s":"B","o":2,"x":5.9,"y":-0.3},{"p":"ba","id":"13","s":"B","o":3,"x":5.6,"y":-0.6},
  {"p":"ba","id":"14","s":"C","o":0,"x":2.5,"y":0.6},{"p":"ba","id":"14","s":"C","o":1,"x":2.8,"y":0.9},{"p":"ba","id":"14","s":"C","o":2,"x":3.1,"y":0.6},{"p":"ba","id":"14","s":"C","o":3,"x":2.8,"y":0.4}
 ]
},
"concat":[
  {"width":142,"height":80,
   "encoding":{"x":{"field":"h0","type":"quantitative","scale":{"domain":[0.2,1.2],"nice":false,"zero":false},"axis":{"title":null,"labels":false,"values":[0.4,0.6,0.8,1.0]}},
     "y":{"field":"d","type":"quantitative","stack":null,"scale":{"domain":[0,1],"nice":false},"axis":null}},
   "layer":[
    {"data":{"name":"h0m"},"mark":{"type":"area","interpolate":"monotone"},"encoding":{"fill":{"field":"s","type":"nominal","scale":{"domain":["A","B","C","D","E","A2"],"range":["#ff5b5b","#ffab3a","#c49ae6","#45e6fa","#4ea2e0","#cf2727"]},"legend":null}}},
    {"data":{"name":"h0l"},"mark":{"type":"line","interpolate":"monotone","strokeWidth":1},"encoding":{"detail":{"field":"id"},"stroke":{"field":"s","type":"nominal","scale":{"domain":["A","B","C","D","E"],"range":["#d62728","#ff7f0e","#9467bd","#17becf","#1f77b4"]},"legend":null}}}
   ]},
  {"width":142,"height":80,"view":{"stroke":null},"data":{"values":[]},"mark":"point"},
  {"width":142,"height":80,"view":{"stroke":null},"data":{"name":"leg"},
   "mark":{"type":"text","align":"left","baseline":"middle","fontSize":16.5,"font":"DejaVu Sans","dx":-37},
   "encoding":{"y":{"field":"i","type":"quantitative","scale":{"domain":[-0.685,2.54],"reverse":true,"nice":false,"zero":false},"axis":null},
     "text":{"field":"t","type":"nominal"},
     "color":{"field":"s","type":"nominal","scale":{"domain":["A","B","C","D","E"],"range":["#d62728","#ff7f0e","#9467bd","#17becf","#1f77b4"]},"legend":null}}},
  {"width":142,"height":80,"view":{"stroke":null},"data":{"values":[]},"mark":"point"},
  {"width":142,"height":80,
   "encoding":{"x":{"field":"h0","type":"quantitative","scale":{"domain":[0.2,1.2],"nice":false,"zero":false},"axis":{"title":null,"labels":false,"values":[0.4,0.6,0.8,1.0]}}},
   "layer":[
    {"data":{"name":"bands"},"mark":{"type":"rect","clip":true},"encoding":{"x2":{"field":"h0b"},"fill":{"field":"c","type":"nominal","scale":{"domain":["A","B","C","D","E","A2"],"range":["#ff5b5b","#ffab3a","#c49ae6","#45e6fa","#4ea2e0","#cf2727"]},"legend":null}}},
    {"data":{"name":"wig"},"transform":[{"lookup":"k","from":{"data":{"name":"ks"},"key":"k","fields":["om","bg","al"]}}],"mark":{"type":"line","interpolate":"basis","strokeWidth":1,"clip":true},
     "encoding":{"y":{"field":"om","type":"quantitative","scale":{"domain":[0.1,0.4],"nice":false,"zero":false},"axis":{"title":"Ωₘ","values":[0.12,0.18,0.24,0.3,0.36],"format":".2f","labelAngle":-45,"titleX":-59,"titleBaseline":"middle"}},
       "detail":{"field":"id"},"order":{"field":"k"},"stroke":{"field":"s","type":"nominal","scale":{"domain":["A","B","C","D","E"],"range":["#d62728","#ff7f0e","#9467bd","#17becf","#1f77b4"]},"legend":null}}}
   ]},
  {"width":142,"height":80,
   "encoding":{"x":{"field":"x","type":"quantitative","scale":{"domain":[0.1,0.4],"nice":false,"zero":false},"axis":{"title":null,"labels":false,"values":[0.12,0.18,0.24,0.3,0.36]}},
     "y":{"field":"d","type":"quantitative","stack":null,"scale":{"domain":[0,1],"nice":false},"axis":null}},
   "layer":[
    {"data":{"name":"dg"},"transform":[{"filter":"datum.p=='om'"}],"mark":{"type":"area","interpolate":"monotone"},"encoding":{"fill":{"field":"s","type":"nominal","scale":{"domain":["A","B","C","D","E","A2"],"range":["#ff5b5b","#ffab3a","#c49ae6","#45e6fa","#4ea2e0","#cf2727"]},"legend":null}}},
    {"data":{"name":"dgl"},"transform":[{"filter":"datum.p=='om'"}],"mark":{"type":"line","interpolate":"monotone","strokeWidth":1},"encoding":{"detail":{"field":"id"},"stroke":{"field":"s","type":"nominal","scale":{"domain":["A","B","C","D","E"],"range":["#d62728","#ff7f0e","#9467bd","#17becf","#1f77b4"]},"legend":null}}}
   ]},
  {"width":142,"height":80,"view":{"stroke":null},"data":{"values":[]},"mark":"point"},
  {"width":142,"height":80,"view":{"stroke":null},"data":{"values":[]},"mark":"point"},
  {"width":142,"height":80,
   "encoding":{"x":{"field":"h0","type":"quantitative","scale":{"domain":[0.2,1.2],"nice":false,"zero":false},"axis":{"title":null,"labels":false,"values":[0.4,0.6,0.8,1.0]}}},
   "layer":[
    {"data":{"name":"bands"},"mark":{"type":"rect","clip":true},"encoding":{"x2":{"field":"h0b"},"fill":{"field":"c","type":"nominal","scale":{"domain":["A","B","C","D","E","A2"],"range":["#ff5b5b","#ffab3a","#c49ae6","#45e6fa","#4ea2e0","#cf2727"]},"legend":null}}},
    {"data":{"name":"wig"},"transform":[{"lookup":"k","from":{"data":{"name":"ks"},"key":"k","fields":["om","bg","al"]}}],"mark":{"type":"line","interpolate":"basis","strokeWidth":1,"clip":true},
     "encoding":{"y":{"field":"bg","type":"quantitative","scale":{"domain":[0.1,6],"nice":false,"zero":false},"axis":{"title":"bGW","titleFontStyle":"italic","values":[1.5,3,4.5],"format":".1f","labelAngle":-45,"titleX":-59,"titleBaseline":"middle"}},
       "detail":{"field":"id"},"order":{"field":"k"},"stroke":{"field":"s","type":"nominal","scale":{"domain":["A","B","C","D","E"],"range":["#d62728","#ff7f0e","#9467bd","#17becf","#1f77b4"]},"legend":null}}}
   ]},
  {"width":142,"height":80,"view":{"fill":"#ff5b5b"},
   "encoding":{"x":{"field":"x","type":"quantitative","scale":{"domain":[0.1,0.4],"nice":false,"zero":false},"axis":{"title":null,"labels":false,"values":[0.12,0.18,0.24,0.3,0.36]}},
     "y":{"field":"y","type":"quantitative","scale":{"domain":[0.1,6],"nice":false,"zero":false},"axis":{"title":null,"labels":false,"values":[1.5,3,4.5]}}},
   "layer":[
    {"data":{"name":"blobs"},"transform":[{"filter":"datum.p=='ob' && datum.c=='A2'"}],"mark":{"type":"line","interpolate":"basis-closed","filled":true,"fill":"#cf2727","stroke":"#cf2727","strokeWidth":0,"clip":true},"encoding":{"detail":{"field":"id"},"order":{"field":"o"}}},
    {"data":{"name":"blobs"},"transform":[{"filter":"datum.p=='ob' && datum.c=='B'"}],"mark":{"type":"line","interpolate":"basis-closed","filled":true,"fill":"#ffab3a","stroke":"#ffab3a","strokeWidth":0,"clip":true},"encoding":{"detail":{"field":"id"},"order":{"field":"o"}}},
    {"data":{"name":"loops"},"transform":[{"filter":"datum.p=='ob'"}],"mark":{"type":"line","interpolate":"cardinal-closed","strokeWidth":1,"clip":true},"encoding":{"detail":{"field":"id"},"order":{"field":"o"},"stroke":{"field":"s","type":"nominal","scale":{"domain":["A","B","C","D","E"],"range":["#d62728","#ff7f0e","#9467bd","#17becf","#1f77b4"]},"legend":null}}}
   ]},
  {"width":142,"height":80,
   "encoding":{"x":{"field":"x","type":"quantitative","scale":{"domain":[0.1,6],"nice":false,"zero":false},"axis":{"title":null,"labels":false,"values":[1.5,3,4.5]}},
     "y":{"field":"d","type":"quantitative","stack":null,"scale":{"domain":[0,1],"nice":false},"axis":null}},
   "layer":[
    {"data":{"name":"dg"},"transform":[{"filter":"datum.p=='bg'"}],"mark":{"type":"area","interpolate":"monotone"},"encoding":{"fill":{"field":"s","type":"nominal","scale":{"domain":["A","B","C","D","E","A2"],"range":["#ff5b5b","#ffab3a","#c49ae6","#45e6fa","#4ea2e0","#cf2727"]},"legend":null}}},
    {"data":{"name":"dgl"},"transform":[{"filter":"datum.p=='bg'"}],"mark":{"type":"line","interpolate":"monotone","strokeWidth":1},"encoding":{"detail":{"field":"id"},"stroke":{"field":"s","type":"nominal","scale":{"domain":["A","B","C","D","E"],"range":["#d62728","#ff7f0e","#9467bd","#17becf","#1f77b4"]},"legend":null}}}
   ]},
  {"width":142,"height":80,"view":{"stroke":null},"data":{"values":[]},"mark":"point"},
  {"width":142,"height":80,
   "encoding":{"x":{"field":"h0","type":"quantitative","scale":{"domain":[0.2,1.2],"nice":false,"zero":false},"axis":{"title":"h₀","values":[0.4,0.6,0.8,1.0],"format":".1f","labelAngle":-45,"titleY":44,"titleBaseline":"middle"}}},
   "layer":[
    {"data":{"name":"bands"},"mark":{"type":"rect","clip":true},"encoding":{"x2":{"field":"h0b"},"fill":{"field":"c","type":"nominal","scale":{"domain":["A","B","C","D","E","A2"],"range":["#ff5b5b","#ffab3a","#c49ae6","#45e6fa","#4ea2e0","#cf2727"]},"legend":null}}},
    {"data":{"name":"wig"},"transform":[{"lookup":"k","from":{"data":{"name":"ks"},"key":"k","fields":["om","bg","al"]}}],"mark":{"type":"line","interpolate":"basis","strokeWidth":1,"clip":true},
     "encoding":{"y":{"field":"al","type":"quantitative","scale":{"domain":[-2,2],"nice":false,"zero":false},"axis":{"title":"α","titleFontStyle":"italic","values":[-1.6,-0.8,0,0.8,1.6],"format":".1f","labelAngle":-45,"titleX":-59,"titleBaseline":"middle"}},
       "detail":{"field":"id"},"order":{"field":"k"},"stroke":{"field":"s","type":"nominal","scale":{"domain":["A","B","C","D","E"],"range":["#d62728","#ff7f0e","#9467bd","#17becf","#1f77b4"]},"legend":null}}}
   ]},
  {"width":142,"height":80,"view":{"fill":"#ff5b5b"},
   "encoding":{"x":{"field":"x","type":"quantitative","scale":{"domain":[0.1,0.4],"nice":false,"zero":false},"axis":{"title":"Ωₘ","values":[0.12,0.18,0.24,0.3,0.36],"format":".2f","labelAngle":-45,"titleY":44,"titleBaseline":"middle"}},
     "y":{"field":"y","type":"quantitative","scale":{"domain":[-2,2],"nice":false,"zero":false},"axis":{"title":null,"labels":false,"values":[-1.6,-0.8,0,0.8,1.6]}}},
   "layer":[
    {"data":{"name":"blobs"},"transform":[{"filter":"datum.p=='oa' && datum.c=='A2'"}],"mark":{"type":"line","interpolate":"basis-closed","filled":true,"fill":"#cf2727","stroke":"#cf2727","strokeWidth":0,"clip":true},"encoding":{"detail":{"field":"id"},"order":{"field":"o"}}},
    {"data":{"name":"blobs"},"transform":[{"filter":"datum.p=='oa' && datum.c=='B'"}],"mark":{"type":"line","interpolate":"basis-closed","filled":true,"fill":"#ffab3a","stroke":"#ffab3a","strokeWidth":0,"clip":true},"encoding":{"detail":{"field":"id"},"order":{"field":"o"}}},
    {"data":{"name":"loops"},"transform":[{"filter":"datum.p=='oa'"}],"mark":{"type":"line","interpolate":"cardinal-closed","strokeWidth":1,"clip":true},"encoding":{"detail":{"field":"id"},"order":{"field":"o"},"stroke":{"field":"s","type":"nominal","scale":{"domain":["A","B","C","D","E"],"range":["#d62728","#ff7f0e","#9467bd","#17becf","#1f77b4"]},"legend":null}}}
   ]},
  {"width":142,"height":80,"view":{"fill":"#ff5b5b"},
   "encoding":{"x":{"field":"x","type":"quantitative","scale":{"domain":[0.1,6],"nice":false,"zero":false},"axis":{"title":"bGW","titleFontStyle":"italic","values":[1.5,3,4.5],"format":".1f","labelAngle":-45,"titleY":44,"titleBaseline":"middle"}},
     "y":{"field":"y","type":"quantitative","scale":{"domain":[-2,2],"nice":false,"zero":false},"axis":{"title":null,"labels":false,"values":[-1.6,-0.8,0,0.8,1.6]}}},
   "layer":[
    {"data":{"name":"blobs"},"transform":[{"filter":"datum.p=='ba' && datum.c=='A2'"}],"mark":{"type":"line","interpolate":"basis-closed","filled":true,"fill":"#cf2727","stroke":"#cf2727","strokeWidth":0,"clip":true},"encoding":{"detail":{"field":"id"},"order":{"field":"o"}}},
    {"data":{"name":"blobs"},"transform":[{"filter":"datum.p=='ba' && datum.c=='B'"}],"mark":{"type":"line","interpolate":"basis-closed","filled":true,"fill":"#ffab3a","stroke":"#ffab3a","strokeWidth":0,"clip":true},"encoding":{"detail":{"field":"id"},"order":{"field":"o"}}},
    {"data":{"name":"loops"},"transform":[{"filter":"datum.p=='ba'"}],"mark":{"type":"line","interpolate":"cardinal-closed","strokeWidth":1,"clip":true},"encoding":{"detail":{"field":"id"},"order":{"field":"o"},"stroke":{"field":"s","type":"nominal","scale":{"domain":["A","B","C","D","E"],"range":["#d62728","#ff7f0e","#9467bd","#17becf","#1f77b4"]},"legend":null}}}
   ]},
  {"width":142,"height":80,
   "encoding":{"x":{"field":"x","type":"quantitative","scale":{"domain":[-2,2],"nice":false,"zero":false},"axis":{"title":"α","titleFontStyle":"italic","values":[-1.6,-0.8,0,0.8,1.6],"format":".1f","labelAngle":-45,"titleY":44,"titleBaseline":"middle"}},
     "y":{"field":"d","type":"quantitative","stack":null,"scale":{"domain":[0,1],"nice":false},"axis":null}},
   "layer":[
    {"data":{"name":"dg"},"transform":[{"filter":"datum.p=='al'"}],"mark":{"type":"area","interpolate":"monotone"},"encoding":{"fill":{"field":"s","type":"nominal","scale":{"domain":["A","B","C","D","E","A2"],"range":["#ff5b5b","#ffab3a","#c49ae6","#45e6fa","#4ea2e0","#cf2727"]},"legend":null}}},
    {"data":{"name":"dgl"},"transform":[{"filter":"datum.p=='al'"}],"mark":{"type":"line","interpolate":"monotone","strokeWidth":1},"encoding":{"detail":{"field":"id"},"stroke":{"field":"s","type":"nominal","scale":{"domain":["A","B","C","D","E"],"range":["#d62728","#ff7f0e","#9467bd","#17becf","#1f77b4"]},"legend":null}}}
   ]}
]
}
